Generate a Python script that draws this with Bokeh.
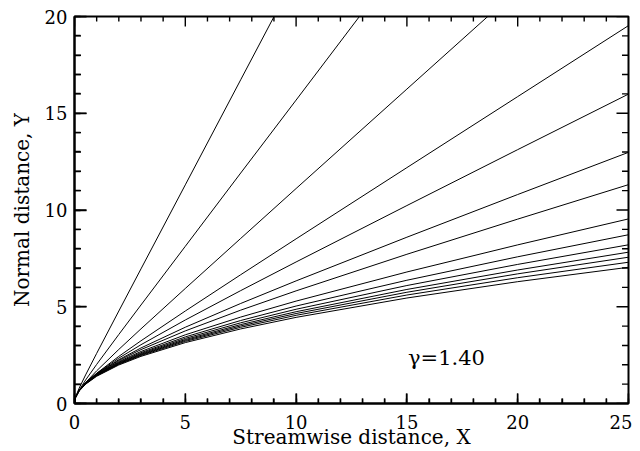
from bokeh.plotting import figure
from bokeh.models import Range1d, LinearAxis, SingleIntervalTicker, Label
from bokeh.embed import file_html
from bokeh.resources import INLINE

# Streamwise positions (X) at which each shock curve was read
x_grid = [0, 0.01, 0.05, 0.2, 0.5, 1, 2, 3, 5, 7.5, 10, 15, 20, 25]

# Normal distance Y of each shock curve (top to bottom)
shock_01 = [0, 0.143, 0.334, 0.767, 1.476, 2.590, 4.779, 6.956, 11.30, 16.73, 22.16, 33.01, 43.86, 54.72]
shock_02 = [0, 0.135, 0.309, 0.672, 1.212, 2.020, 3.567, 5.091, 8.124, 11.91, 15.68, 23.24, 30.79, 38.34]
shock_03 = [0, 0.135, 0.304, 0.634, 1.079, 1.689, 2.795, 3.858, 5.945, 8.530, 11.11, 16.25, 21.39, 26.52]
shock_04 = [0, 0.138, 0.310, 0.634, 1.041, 1.560, 2.436, 3.241, 4.780, 6.655, 8.509, 12.19, 15.86, 19.53]
shock_05 = [0, 0.145, 0.325, 0.658, 1.064, 1.557, 2.345, 3.037, 4.316, 5.834, 7.315, 10.23, 13.12, 15.99]
shock_06 = [0, 0.148, 0.332, 0.669, 1.070, 1.543, 2.264, 2.870, 3.942, 5.169, 6.337, 8.594, 10.80, 12.98]
shock_07 = [0, 0.150, 0.335, 0.673, 1.072, 1.535, 2.223, 2.785, 3.752, 4.824, 5.822, 7.712, 9.529, 11.31]
shock_08 = [0, 0.150, 0.335, 0.671, 1.065, 1.515, 2.169, 2.688, 3.550, 4.467, 5.292, 6.797, 8.198, 9.539]
shock_09 = [0, 0.148, 0.332, 0.664, 1.053, 1.495, 2.130, 2.627, 3.441, 4.289, 5.037, 6.370, 7.582, 8.721]
shock_10 = [0, 0.147, 0.329, 0.658, 1.042, 1.477, 2.099, 2.583, 3.366, 4.170, 4.870, 6.097, 7.189, 8.201]
shock_11 = [0, 0.146, 0.326, 0.652, 1.031, 1.460, 2.072, 2.545, 3.305, 4.078, 4.744, 5.894, 6.900, 7.820]
shock_12 = [0, 0.144, 0.323, 0.645, 1.021, 1.445, 2.048, 2.513, 3.257, 4.008, 4.650, 5.749, 6.700, 7.560]
shock_13 = [0, 0.143, 0.319, 0.639, 1.010, 1.430, 2.024, 2.481, 3.208, 3.938, 4.557, 5.606, 6.501, 7.300]
shock_14 = [0, 0.141, 0.315, 0.629, 0.995, 1.407, 1.990, 2.437, 3.147, 3.854, 4.451, 5.452, 6.296, 7.040]

curves = [shock_01, shock_02, shock_03, shock_04, shock_05, shock_06, shock_07,
          shock_08, shock_09, shock_10, shock_11, shock_12, shock_13, shock_14]

# axis extents and tick values
x_start, x_end = 0, 25
y_start, y_end = 0, 20
x_major = [0, 5, 10, 15, 20, 25]
x_minor = [v for v in range(0, 26) if v % 5 != 0]
y_major = [0, 5, 10, 15, 20]
y_minor = [v for v in range(0, 21) if v % 5 != 0]

annotation_text = "\u03b3=1.40"
x_title = "Streamwise distance, X"
y_title = "Normal distance, Y"

FONT = "DejaVu Serif"

# layout (pixels)
W, H = 632, 451
BL, BR, BT, BB = 74, 4, 16, 48
frame_w = W - BL - BR
frame_h = H - BT - BB
px_x = (x_end - x_start) / frame_w   # data units per pixel, x
px_y = (y_end - y_start) / frame_h   # data units per pixel, y

p = figure(width=W, height=H, output_backend="svg", toolbar_location=None,
           x_range=Range1d(x_start, x_end), y_range=Range1d(y_start, y_end),
           x_axis_location=None, y_axis_location=None,
           min_border_left=BL, min_border_right=BR, min_border_top=BT, min_border_bottom=BB)
p.grid.visible = False
p.outline_line_color = "black"
p.outline_line_width = 2
p.background_fill_color = "white"
p.border_fill_color = "white"

# inward tick marks on all four sides: one polyline per tick, same glyph type as the curves
tick_xs, tick_ys = [], []
for ticks, length in ((x_major, 10), (x_minor, 5)):
    L = length * px_y
    for t in ticks:
        tick_xs += [[t, t, t], [t, t, t]]
        tick_ys += [[y_start, y_start + L / 2, y_start + L], [y_end, y_end - L / 2, y_end - L]]
for ticks, length in ((y_major, 12), (y_minor, 6.5)):
    L = length * px_x
    for t in ticks:
        tick_xs += [[x_start, x_start + L / 2, x_start + L], [x_end, x_end - L / 2, x_end - L]]
        tick_ys += [[t, t, t], [t, t, t]]

all_xs = [x_grid] * len(curves) + tick_xs
all_ys = list(curves) + tick_ys
widths = [1.0] * len(curves) + [1.4] * len(tick_xs)
p.multi_line(xs=all_xs, ys=all_ys, line_color="black", line_width=widths)


def make_axis(title, title_standoff, label_standoff, tin, tmin):
    ax = LinearAxis(ticker=SingleIntervalTicker(interval=5, num_minor_ticks=5))
    ax.axis_line_color = "black"
    ax.axis_line_width = 2
    ax.major_tick_line_color = "black"
    ax.major_tick_line_width = 1.4
    ax.minor_tick_line_color = "black"
    ax.minor_tick_line_width = 1.4
    ax.major_tick_in = tin
    ax.major_tick_out = 0
    ax.minor_tick_in = tmin
    ax.minor_tick_out = 0
    ax.major_label_text_font = FONT
    ax.major_label_text_font_size = "18px"
    ax.major_label_text_color = "black"
    ax.major_label_standoff = label_standoff
    ax.axis_label = title
    ax.axis_label_text_font = FONT
    ax.axis_label_text_font_size = "20px"
    ax.axis_label_text_font_style = "normal"
    ax.axis_label_text_color = "black"
    ax.axis_label_standoff = title_standoff
    return ax


p.add_layout(make_axis(x_title, -7, 11, 10, 5), "below")
p.add_layout(make_axis(y_title, 8, 7, 12, 6), "left")

p.add_layout(Label(x=15.05, y=2.35, text=annotation_text, text_font=FONT,
                   text_font_size="21px", text_color="black",
                   text_align="left", text_baseline="middle"))

open("out.html", "w").write(file_html(p, INLINE))
